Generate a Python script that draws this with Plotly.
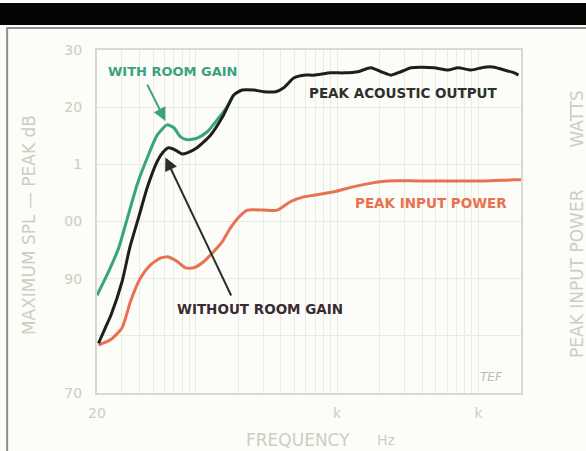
import numpy as np
import plotly.graph_objects as go

# ---- data ----
freq_output = [20.5, 22.9, 25.1, 30.1, 34.1, 39.6, 45.3, 53.3, 59.0, 64.1, 71.8, 80.1, 86.9,
               102, 127, 157, 185, 213, 257, 302, 368, 419, 493, 581, 684, 903, 1117, 1404,
               1735, 2042, 2405, 2832, 3335, 3927, 4853, 6096, 7178, 8872, 10990, 12940,
               15240, 17950, 19190]
spl_output = [78.7, 81.4, 83.6, 89.5, 95.4, 100.9, 105.9, 110.5, 112.2, 112.9, 112.5, 111.8, 112.0,
              112.9, 115.1, 118.6, 122.1, 123.0, 123.0, 122.7, 122.7, 123.4, 125.1, 125.6, 125.6,
              126.0, 126.0, 126.2, 126.9, 126.2, 125.6, 126.2, 126.9, 127.0, 126.9, 126.5,
              126.9, 126.5, 127.0, 127.0, 126.5, 126.0, 125.6]

freq_room = [20, 24.1, 28.4, 31.8, 38.4, 45.3, 53.3, 62.7, 69.9, 78.0, 86.9, 102.4,
             120.6, 142, 167, 185]
spl_room = [87.1, 91.2, 95.3, 99.4, 106.4, 111.1, 115.1, 116.9, 116.4, 114.8, 114.3,
            114.6, 115.7, 117.8, 120.1, 122.1]

freq_power = [20.5, 24.9, 30.1, 34.5, 40.6, 47.8, 56.2, 64.4, 73.9, 84.6, 96.9, 114, 131, 154,
              176, 202, 232, 302, 378, 470, 581, 684, 948, 1315, 1825, 2279, 3722, 6410,
              10990, 17950, 20000]
power_db = [78.4, 79.3, 81.4, 86.0, 90.1, 92.4, 93.6, 93.8, 93.0, 91.9, 91.9, 93.0, 94.5, 96.5,
            98.9, 100.8, 102.0, 102.0, 102.0, 103.5, 104.3, 104.6, 105.2, 106.1, 106.8, 107.1,
            107.1, 107.1, 107.1, 107.3, 107.3]

y_tickvals = [70, 80, 90, 100, 110, 120, 130]
y_ticktext = ["70", "", "90", "00", "1", "20", "30"]
x_gridvals = [20, 30, 40, 50, 60, 70, 80, 90, 100, 200, 300, 400, 500, 600, 700, 800, 900,
              1000, 2000, 3000, 4000, 5000, 6000, 7000, 8000, 9000, 10000, 20000]
x_labels = {20: "20", 1000: "k", 10000: "k"}

BG = "#fcfcf8"
FAINT = "#c9cfc1"
GREEN = "#3aa27e"
BLACK = "#1e1f1c"
RED = "#e8714f"
FONT = "DejaVu Sans"

fig = go.Figure()
fig.add_trace(go.Scatter(x=freq_power, y=power_db, mode="lines", line=dict(color=RED, width=3, shape="spline", smoothing=0.6), hoverinfo="skip"))
fig.add_trace(go.Scatter(x=freq_room, y=spl_room, mode="lines", line=dict(color=GREEN, width=3, shape="spline", smoothing=0.6), hoverinfo="skip"))
fig.add_trace(go.Scatter(x=freq_output, y=spl_output, mode="lines", line=dict(color=BLACK, width=3, shape="spline", smoothing=0.6), hoverinfo="skip"))

L = np.log10
C = dict(xanchor="center", yanchor="middle", showarrow=False)
ann = []
# curve labels
ann.append(dict(x=L(68.5), y=126.3, xref="x", yref="y", text="WITH ROOM GAIN", **C,
                font=dict(family=FONT, size=13, color=GREEN, weight="bold")))
ann.append(dict(x=L(2950), y=122.5, xref="x", yref="y", text="PEAK ACOUSTIC OUTPUT", **C,
                font=dict(family=FONT, size=13.5, color="#2f302c", weight="bold")))
ann.append(dict(x=L(283), y=84.7, xref="x", yref="y", text="WITHOUT ROOM GAIN", **C,
                font=dict(family=FONT, size=13.5, color="#3a2c33", weight="bold")))
ann.append(dict(x=L(4583), y=103.2, xref="x", yref="y", text="PEAK INPUT POWER", **C,
                font=dict(family=FONT, size=13.5, color=RED, weight="bold")))
ann.append(dict(x=L(12330), y=72.8, xref="x", yref="y", text="<i>TEF</i>", **C,
                font=dict(family=FONT, size=12, color="#b9bdb2")))
# arrows
ann.append(dict(x=L(61), y=117.6, xref="x", yref="y", ax=L(44.8), ay=124.2, axref="x", ayref="y",
                text="", showarrow=True, arrowhead=2, arrowsize=1.3, arrowwidth=2, arrowcolor=GREEN))
ann.append(dict(x=L(61), y=111.2, xref="x", yref="y", ax=L(180), ay=86.8, axref="x", ayref="y",
                text="", showarrow=True, arrowhead=2, arrowsize=1.3, arrowwidth=2, arrowcolor="#2c2e2a"))
# axis titles
ann.append(dict(x=-0.160, y=0.49, xref="paper", yref="paper", text="MAXIMUM SPL — PEAK dB", textangle=-90,
                **C, font=dict(family=FONT, size=17, color=FAINT)))
ann.append(dict(x=1.132, y=0.35, xref="paper", yref="paper", text="PEAK INPUT POWER", textangle=-90,
                **C, font=dict(family=FONT, size=17, color=FAINT)))
ann.append(dict(x=1.132, y=0.80, xref="paper", yref="paper", text="WATTS", textangle=-90,
                **C, font=dict(family=FONT, size=17, color=FAINT)))
ann.append(dict(x=0.473, y=-0.137, xref="paper", yref="paper", text="FREQUENCY", **C,
                font=dict(family=FONT, size=17, color=FAINT)))
ann.append(dict(x=0.682, y=-0.137, xref="paper", yref="paper", text="Hz", **C,
                font=dict(family=FONT, size=14, color=FAINT)))

shapes = [
    dict(type="rect", xref="paper", yref="paper", x0=-0.25, x1=1.2, y0=1.073, y1=1.137,
         fillcolor="#050505", line=dict(width=0), layer="above"),
    dict(type="line", xref="paper", yref="paper", x0=-0.212, x1=1.2, y0=1.064, y1=1.064,
         line=dict(color="#8d9088", width=2)),
    dict(type="line", xref="paper", yref="paper", x0=-0.212, x1=-0.212, y0=1.066, y1=-0.2,
         line=dict(color="#8d9088", width=2)),
]

fig.update_layout(
    width=586, height=451,
    margin=dict(l=97, r=65, t=50, b=58),
    paper_bgcolor=BG, plot_bgcolor=BG,
    showlegend=False,
    annotations=ann, shapes=shapes,
    xaxis=dict(type="log", range=[L(20), L(20000)], tickmode="array", tickvals=x_gridvals,
               ticktext=[x_labels.get(v, "") for v in x_gridvals],
               showgrid=True, gridcolor="#e8ebe2", gridwidth=1,
               showline=True, linecolor="#d6dbcd", linewidth=2, mirror=True,
               ticks="outside", ticklen=6, tickcolor="rgba(0,0,0,0)",
               tickfont=dict(family=FONT, size=14, color=FAINT), zeroline=False),
    yaxis=dict(range=[70, 130], tickmode="array", tickvals=y_tickvals, ticktext=y_ticktext,
               showgrid=True, gridcolor="#e8ebe2", gridwidth=1,
               showline=True, linecolor="#d6dbcd", linewidth=2, mirror=True,
               ticks="outside", ticklen=10, tickcolor="rgba(0,0,0,0)",
               tickfont=dict(family=FONT, size=14, color=FAINT), zeroline=False),
)

fig.write_html("out.html", config={"displayModeBar": False},
               post_script="document.body.style.margin='0';document.body.style.background='#fcfcf8';")
